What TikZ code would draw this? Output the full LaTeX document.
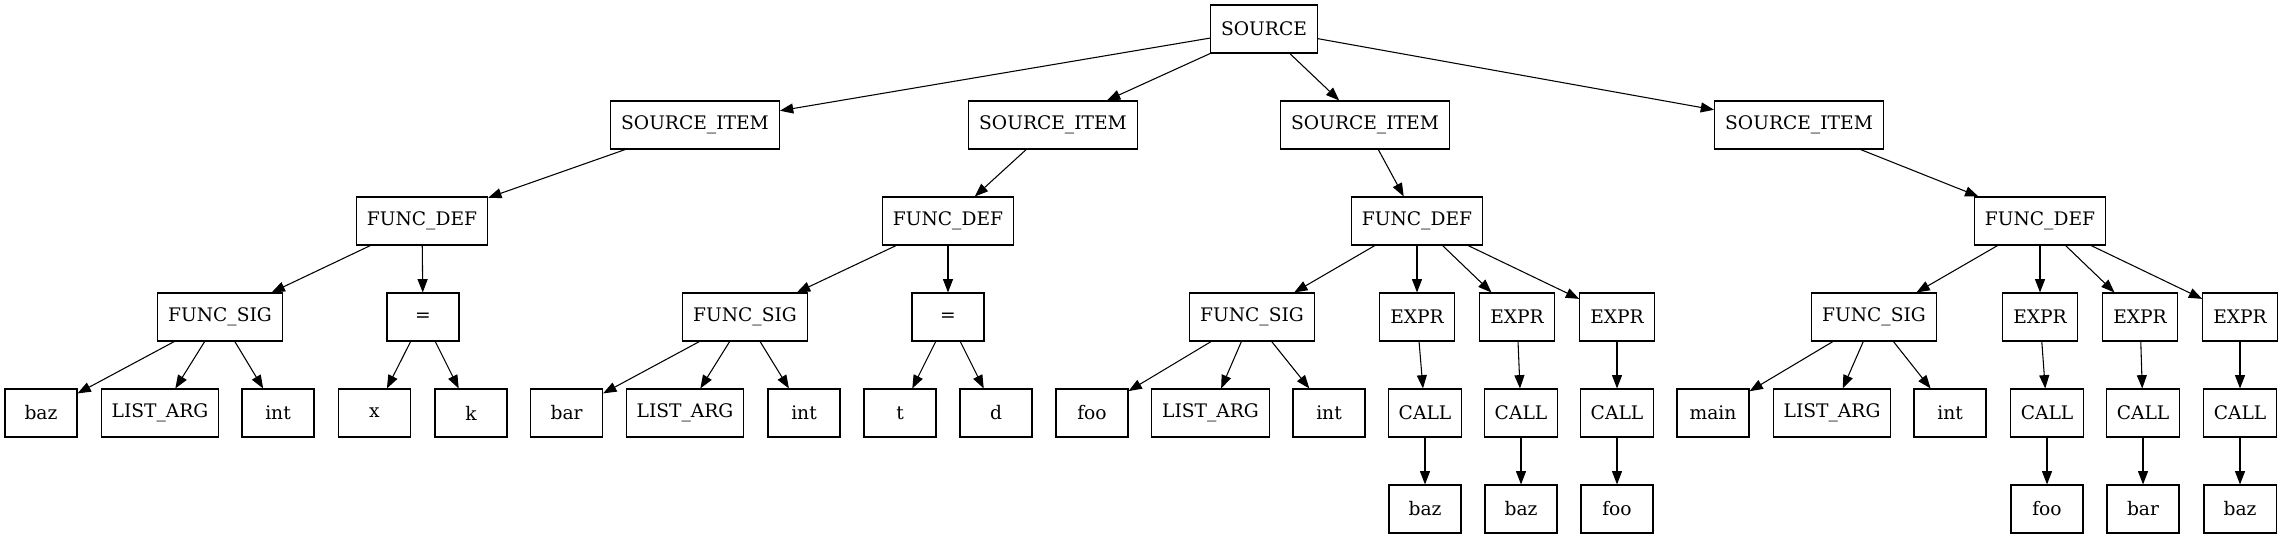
\documentclass[tikz,border=0pt]{standalone}
\usepackage{fontspec}
\setmainfont{DejaVu Serif}
\usetikzlibrary{arrows.meta}

\begin{document}
\begin{tikzpicture}[x=0.75pt, y=-0.75pt,
    ast/.style={draw, line width=0.8pt, minimum width=54pt, minimum height=36pt,
                inner xsep=7.9pt, inner ysep=0pt, font=\fontsize{14}{17}\selectfont},
    edge/.style={-{Triangle[length=10pt, width=7.5pt]}, line width=0.8pt}]

\useasboundingbox (0,0) rectangle (2283,539);

% === Root ===
\node[ast] (src) at (1264,29) {SOURCE};

% === Source items ===
\foreach \i/\x in {1/695, 2/1053, 3/1365, 4/1799} {
    \node[ast] (si\i) at (\x,125) {SOURCE\_ITEM};
    \draw[edge] (src) -- (si\i);
}

% === Function definitions ===
\foreach \i/\x in {1/422, 2/948, 3/1417, 4/2040} {
    \node[ast] (fd\i) at (\x,221) {FUNC\_DEF};
    \draw[edge] (si\i) -- (fd\i);
}

% === Signatures: name, args, return type ===
\foreach \i/\x/\fname/\nx/\lx/\tx in {1/220/baz/41/160/278, 2/745/bar/566.6/685/804,
                                      3/1252/foo/1092/1210.5/1329, 4/1874/main/1713/1832/1950} {
    \node[ast] (fs\i) at (\x,317) {FUNC\_SIG};
    \node[ast] (fn\i) at (\nx,413) {\fname};
    \node[ast] (la\i) at (\lx,413) {LIST\_ARG};
    \node[ast] (ty\i) at (\tx,413) {int};
    \draw[edge] (fd\i) -- (fs\i);
    \foreach \c in {fn,la,ty}
        \draw[edge] (fs\i) -- (\c\i);
}

% === Assignments ===
\foreach \i/\x/\lhs/\lx/\rhs/\rx in {1/423/x/374.5/k/471, 2/948/t/900/d/996} {
    \node[ast] (eq\i) at (\x,317) {=};
    \node[ast] (lhs\i) at (\lx,413) {\lhs};
    \node[ast] (rhs\i) at (\rx,413) {\rhs};
    \draw[edge] (fd\i) -- (eq\i);
    \draw[edge] (eq\i) -- (lhs\i);
    \draw[edge] (eq\i) -- (rhs\i);
}

% === Expressions with calls ===
\foreach \i/\d/\ex/\cx/\callee in {1/3/1417/1425/baz, 2/3/1517/1521/baz, 3/3/1617/1617/foo,
                                   4/4/2040/2047/foo, 5/4/2140/2143/bar, 6/4/2240/2240/baz} {
    \node[ast] (ex\i) at (\ex,317) {EXPR};
    \node[ast] (call\i) at (\cx,413) {CALL};
    \node[ast] (cal\i) at (\cx,509) {\callee};
    \draw[edge] (fd\d) -- (ex\i);
    \draw[edge] (ex\i) -- (call\i);
    \draw[edge] (call\i) -- (cal\i);
}

\end{tikzpicture}
\end{document}
